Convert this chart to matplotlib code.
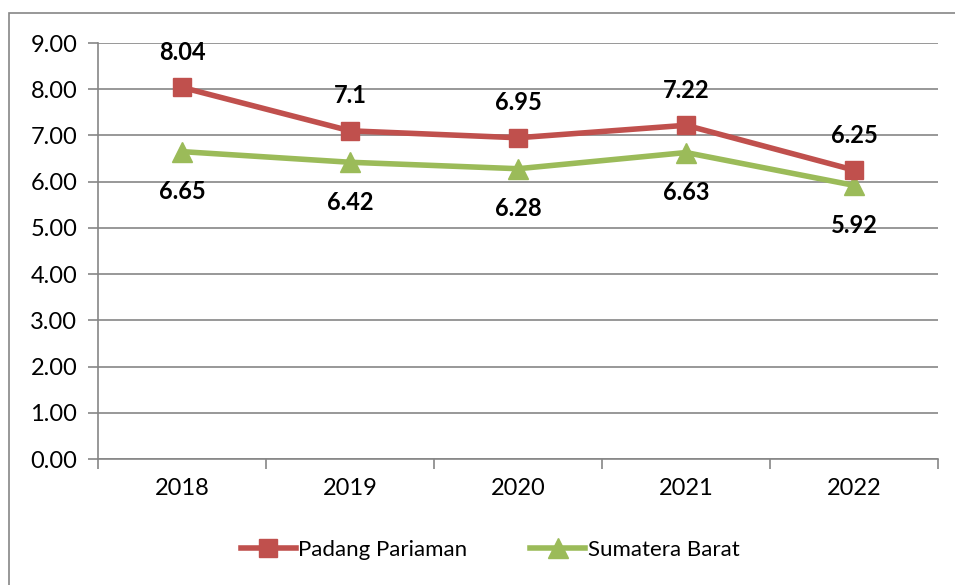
import matplotlib.pyplot as plt
from matplotlib.patches import Rectangle

# data
years = ['2018', '2019', '2020', '2021', '2022']
padang_pariaman = [8.04, 7.1, 6.95, 7.22, 6.25]
sumatera_barat = [6.65, 6.42, 6.28, 6.63, 5.92]
label_pp = ['8.04', '7.1', '6.95', '7.22', '6.25']
label_sb = ['6.65', '6.42', '6.28', '6.63', '5.92']
y_ticks = [0, 1, 2, 3, 4, 5, 6, 7, 8, 9]

plt.rcParams['font.family'] = ['Lato', 'DejaVu Sans']

W, H = 955, 585
fig = plt.figure(figsize=(W / 100, H / 100), dpi=100)

# chart border (Excel-style frame, cut at right and bottom)
fig.patches.append(Rectangle((9 / W, -0.05), 1.1, 1 - 13 / H + 0.05,
                             transform=fig.transFigure, fill=False,
                             edgecolor='#868686', linewidth=1.2))

ax = fig.add_axes([98 / W, 1 - 459 / H, 840 / W, 416 / H])

red = '#C0504D'
green = '#9BBB59'
grid = '#868686'
x = list(range(len(years)))

ax.plot(x, padang_pariaman, color=red, lw=4, marker='s', ms=13,
        label='Padang Pariaman', zorder=4)
ax.plot(x, sumatera_barat, color=green, lw=4, marker='^', ms=14,
        label='Sumatera Barat', zorder=3)

for xi, v, t in zip(x, padang_pariaman, label_pp):
    ax.annotate(t, (xi, v), xytext=(0, 35), textcoords='offset pixels',
                ha='center', va='center', fontsize=17, fontweight='bold')
for xi, v, t in zip(x, sumatera_barat, label_sb):
    ax.annotate(t, (xi, v), xytext=(0, -40), textcoords='offset pixels',
                ha='center', va='center', fontsize=17, fontweight='bold')

ax.set_xlim(-0.5, len(years) - 0.5)
ax.set_ylim(0, 9)
ax.set_yticks(y_ticks)
ax.set_yticklabels([f'{v:.2f}' for v in y_ticks])
ax.set_xticks(x)
ax.set_xticklabels(years)
ax.set_xticks([i - 0.5 for i in range(len(years) + 1)], minor=True)

ax.grid(axis='y', color=grid, lw=1.2)
ax.set_axisbelow(True)
for s in ['top', 'right']:
    ax.spines[s].set_visible(False)
for s in ['left', 'bottom']:
    ax.spines[s].set_color(grid)
    ax.spines[s].set_linewidth(1.2)

ax.tick_params(axis='y', direction='out', length=7, color=grid, width=1.2,
               labelsize=17, pad=8)
ax.tick_params(axis='x', which='major', length=0, labelsize=17, pad=14)
ax.tick_params(axis='x', which='minor', direction='out', length=7,
               color=grid, width=1.2)

leg = fig.legend(loc='center', bbox_to_anchor=(490 / W, 1 - 550 / H), ncol=2,
                 frameon=False, fontsize=16, handlelength=2.5,
                 handletextpad=0.1, columnspacing=2.8)

fig.savefig('out.png', dpi=100)
